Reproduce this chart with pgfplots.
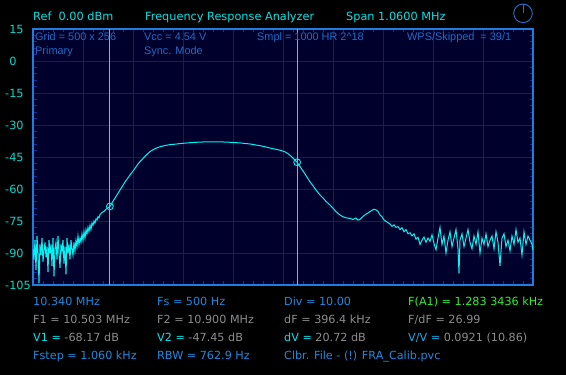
\documentclass[border=0pt]{standalone}
\usepackage{fontspec}
\setmainfont{DejaVu Sans}
\newfontfamily\lib{Liberation Sans}
\usepackage{pgfplots}
\pgfplotsset{compat=1.18}
\definecolor{bgnavy}{HTML}{00002C}
\definecolor{gridblue}{HTML}{161683}
\definecolor{frameblue}{HTML}{1E7EE0}
\definecolor{curvecyan}{HTML}{00F4F4}
\definecolor{headcyan}{HTML}{00E4E8}
\definecolor{tickcyan}{HTML}{00DCCC}
\definecolor{innerblue}{HTML}{1C6CC6}
\definecolor{bluetxt}{HTML}{1E8ADE}
\definecolor{graytxt}{HTML}{8C8C8C}
\definecolor{vcyan}{HTML}{00E6F2}
\definecolor{vvblue}{HTML}{14AEE8}
\definecolor{greentxt}{HTML}{30F030}
\definecolor{cursorgray}{HTML}{A8A8A8}
\definecolor{iconblue}{HTML}{1E74D2}
\begin{document}
\begin{tikzpicture}
\fill[black] (0pt,0pt) rectangle (566pt,375pt);
\begin{axis}[
  at={(33pt,90pt)}, anchor=south west,
  scale only axis, width=500pt, height=256pt,
  xmin=10.34, xmax=11.40, ymin=-105, ymax=15,
  axis background/.style={fill=bgnavy},
  axis line style={draw=frameblue, line width=1.3pt},
  xtick={10.34,10.446,10.552,10.658,10.764,10.87,10.976,11.082,11.188,11.294,11.40},
  xticklabels={},
  ytick={-105,-90,-75,-60,-45,-30,-15,0,15},
  yticklabels={-105,-90,-75,-60,-45,-30,-15,\hphantom{-}0,\hphantom{-}15},
  /pgf/number format/assume math mode=true,
  yticklabel style={anchor=west, inner sep=0pt, xshift=-28pt, text=tickcyan, font=\fontsize{11.3}{13}\selectfont},
  grid=major,
  major grid style={draw=gridblue, line width=0.9pt},
  minor x tick num=4, minor y tick num=4,
  tick align=inside,
  major tick length=0pt,
  minor tick length=3.5pt,
  minor tick style={draw=gridblue!80!frameblue, line width=0.8pt},
  clip=true,
]
% centre cross minor ticks
\pgfplotsinvokeforeach{-102,-99,-96,-93,-87,-84,-81,-78,-72,-69,-66,-63,-57,-54,-51,-48,-42,-39,-36,-33,-27,-24,-21,-18,-12,-9,-6,-3,3,6,9,12}{
  \draw[gridblue!80!frameblue, line width=0.8pt] (axis cs:10.87,#1) ++(-2.5pt,0) -- ++(5pt,0);
}
\pgfplotsinvokeforeach{10.3612,10.3824,10.4036,10.4248,10.4672,10.4884,10.5096,10.5308,10.5732,10.5944,10.6156,10.6368,10.6792,10.7004,10.7216,10.7428,10.7852,10.8064,10.8276,10.8488,10.8912,10.9124,10.9336,10.9548,10.9972,11.0184,11.0396,11.0608,11.1032,11.1244,11.1456,11.1668,11.2092,11.2304,11.2516,11.2728,11.3152,11.3364,11.3576,11.3788}{
  \draw[gridblue!80!frameblue, line width=0.8pt] (axis cs:#1,-45) ++(0,-2.5pt) -- ++(0,5pt);
}
% cursors
\draw[cursorgray, line width=1pt] (axis cs:10.503,-105) -- (axis cs:10.503,15);
\draw[cursorgray, line width=1pt] (axis cs:10.900,-105) -- (axis cs:10.900,15);
% response
\addplot[curvecyan, line width=1pt, mark=none] table {
10.3400 -88
10.34212 -93
10.34424 -84
10.34636 -98
10.34848 -82
10.3506 -90
10.35272 -104
10.35484 -86
10.35696 -91
10.35908 -83
10.3612 -94
10.36332 -89
10.36544 -85
10.36756 -92
10.36968 -87
10.3718 -99
10.37392 -84
10.37604 -90
10.37816 -86
10.38028 -96
10.3824 -83
10.38452 -101
10.38664 -88
10.38876 -85
10.39088 -93
10.393 -82
10.39512 -90
10.39724 -97
10.39936 -86
10.40148 -89
10.4036 -84
10.40572 -95
10.40784 -87
10.40996 -100
10.41208 -83
10.4142 -90
10.41632 -86
10.41844 -93
10.42056 -84
10.42268 -88
10.4248 -91
10.42692 -85
10.42904 -89
10.43116 -84
10.43328 -87
10.4354 -82
10.43752 -86
10.43964 -83
10.44176 -85
10.44388 -81
10.446 -84
10.44812 -80
10.45024 -83
10.45236 -79
10.45448 -81
10.4566 -78
10.45872 -80
10.46084 -77
10.46296 -79
10.46508 -76
10.4672 -77
10.46932 -75
10.47144 -76
10.47356 -74
10.47568 -74.5
10.4778 -73
10.47992 -73.5
10.48204 -72
10.48628 -71
10.49052 -70.5
10.49476 -69.5
10.499 -68.8
10.50324 -68.2
10.50748 -66.5
10.51172 -65
10.51596 -63.5
10.5202 -62
10.52444 -60.5
10.52868 -59
10.53292 -57.5
10.53716 -56
10.5414 -54.8
10.54564 -53.4
10.54988 -52.2
10.55412 -51
10.55836 -49.6
10.5626 -48.3
10.56684 -47.2
10.57108 -46.2
10.57532 -45.2
10.57956 -44.2
10.5838 -43.3
10.58804 -42.5
10.5944 -41.6
10.60076 -40.9
10.60924 -40.2
10.61984 -39.6
10.63044 -39.2
10.64104 -39.0
10.65164 -38.7
10.67284 -38.3
10.69404 -38.0
10.71524 -37.9
10.73644 -37.9
10.75764 -38.1
10.77884 -38.4
10.80004 -38.9
10.81064 -39.3
10.82124 -39.7
10.83184 -40.2
10.84244 -40.8
10.85304 -41.3
10.86364 -41.8
10.87424 -42.6
10.8806 -43.4
10.88696 -44.6
10.89332 -46.0
10.89968 -47.45
10.90604 -49.5
10.9124 -51.5
10.91876 -53.7
10.92724 -56.6
10.9336 -58.5
10.93996 -60.5
10.94844 -62.8
10.9548 -64.2
10.96116 -65.8
10.96964 -67.5
10.976 -69.0
10.98236 -70.6
10.99084 -72.2
10.9972 -73.0
11.00356 -73.5
11.01204 -73.8
11.0184 -74.3
11.02476 -73.6
11.029 -74.6
11.03324 -74.2
11.03748 -73.3
11.04172 -72.5
11.04596 -71.8
11.0502 -71.2
11.05444 -70.6
11.05868 -70.0
11.06292 -69.5
11.06716 -69.8
11.0714 -70.5
11.07564 -72.2
11.07988 -73.0
11.08412 -74.5
11.08836 -75.2
11.0926 -75.8
11.09684 -76.4
11.10108 -77.5
11.10532 -76.8
11.10956 -78.0
11.1138 -77.6
11.11804 -79.0
11.12228 -78.2
11.12652 -80.0
11.13076 -79.0
11.135 -81.0
11.13924 -80.5
11.14348 -82.0
11.14772 -81.0
11.15196 -83.5
11.1562 -82.6
11.16044 -86
11.16468 -84
11.16892 -82.5
11.17316 -85
11.1774 -83
11.18164 -84.5
11.18588 -81.5
11.19012 -85.5
11.19436 -88.5
11.1986 -83
11.20284 -78
11.20708 -86
11.21132 -82
11.21556 -90
11.2198 -84
11.22404 -80
11.22828 -87
11.23252 -83
11.23676 -79
11.241 -88
11.24312 -99.5
11.24524 -84
11.24948 -81
11.25372 -87
11.25796 -83
11.2622 -79
11.26644 -85
11.27068 -88
11.27492 -82
11.27916 -86
11.2834 -80
11.28764 -90
11.29188 -83
11.29612 -86
11.30036 -81
11.3046 -87
11.30884 -84
11.31308 -82
11.31732 -88
11.32156 -80
11.3258 -85
11.33004 -96
11.33428 -83
11.33852 -81
11.34276 -87
11.347 -84
11.35124 -89
11.35548 -82
11.35972 -86
11.36396 -79
11.3682 -85
11.37244 -83
11.37668 -91
11.38092 -80
11.38516 -86
11.3894 -82
11.39364 -84
11.39788 -86
11.4000 -88.5
};
% cursor markers
\addplot[only marks, mark=o, mark size=3.4pt, curvecyan, line width=0.9pt] coordinates {(10.503,-68.17) (10.900,-47.45)};
\end{axis}
% header
\begin{scope}[every node/.style={anchor=base west, inner sep=0pt, font=\fontsize{11.3}{13}\selectfont, text=headcyan}]
\node at (33pt,354.5pt) {Ref\ \ 0.00 dBm};
\node at (145pt,354.5pt) {Frequency Response Analyzer};
\node at (346pt,354.5pt) {Span 1.0600 MHz};
\end{scope}
\draw[iconblue, line width=0.9pt] (523pt,361.7pt) circle (9.3pt);
\draw[iconblue, line width=0.9pt] (523pt,361.7pt) -- (523pt,371pt);
% inner texts
\begin{scope}[every node/.style={anchor=base west, inner sep=0pt, font=\lib\fontsize{10.9}{12}\selectfont, text=innerblue}]
\node at (35pt,334.4pt) {Grid = 500 x 256};
\node at (35pt,320pt) {Primary};
\node at (144pt,334.4pt) {Vcc = 4.54 V};
\node at (144pt,320pt) {Sync. Mode};
\node at (257pt,334.4pt) {Smpl = 1000 HR 2\^{}18};
\node at (407pt,334.4pt) {WPS/Skipped\ \ = 39/1};
\end{scope}
% bottom texts
\begin{scope}[every node/.style={anchor=base west, inner sep=0pt, font=\fontsize{11.2}{13}\selectfont}]
\node[text=bluetxt] at (33pt,69.3pt) {10.340 MHz};
\node[text=bluetxt] at (157pt,69.3pt) {Fs = 500 Hz};
\node[text=bluetxt] at (284pt,69.3pt) {Div = 10.00};
\node[text=greentxt] at (408pt,69.3pt) {F(A1) = 1.283 3436 kHz};
\node[text=graytxt] at (33pt,51.3pt) {F1 = 10.503 MHz};
\node[text=graytxt] at (157pt,51.3pt) {F2 = 10.900 MHz};
\node[text=graytxt] at (284pt,51.3pt) {dF = 396.4 kHz};
\node[text=graytxt] at (408pt,51.3pt) {F/dF = 26.99};
\node at (33pt,33.3pt) {\textcolor{vcyan}{V1 =} \textcolor{graytxt}{-68.17 dB}};
\node at (157pt,33.3pt) {\textcolor{vcyan}{V2 =} \textcolor{graytxt}{-47.45 dB}};
\node at (284pt,33.3pt) {\textcolor{vcyan}{dV =} \textcolor{graytxt}{20.72 dB}};
\node at (408pt,33.3pt) {\textcolor{vvblue}{V/V =} \textcolor{graytxt}{0.0921 (10.86)}};
\node[text=bluetxt] at (33pt,15.7pt) {Fstep = 1.060 kHz};
\node[text=bluetxt] at (157pt,15.7pt) {RBW = 762.9 Hz};
\node[text=bluetxt] at (284pt,15.7pt) {Clbr. File - (!) FRA\_Calib.pvc};
\end{scope}
\end{tikzpicture}
\end{document}
